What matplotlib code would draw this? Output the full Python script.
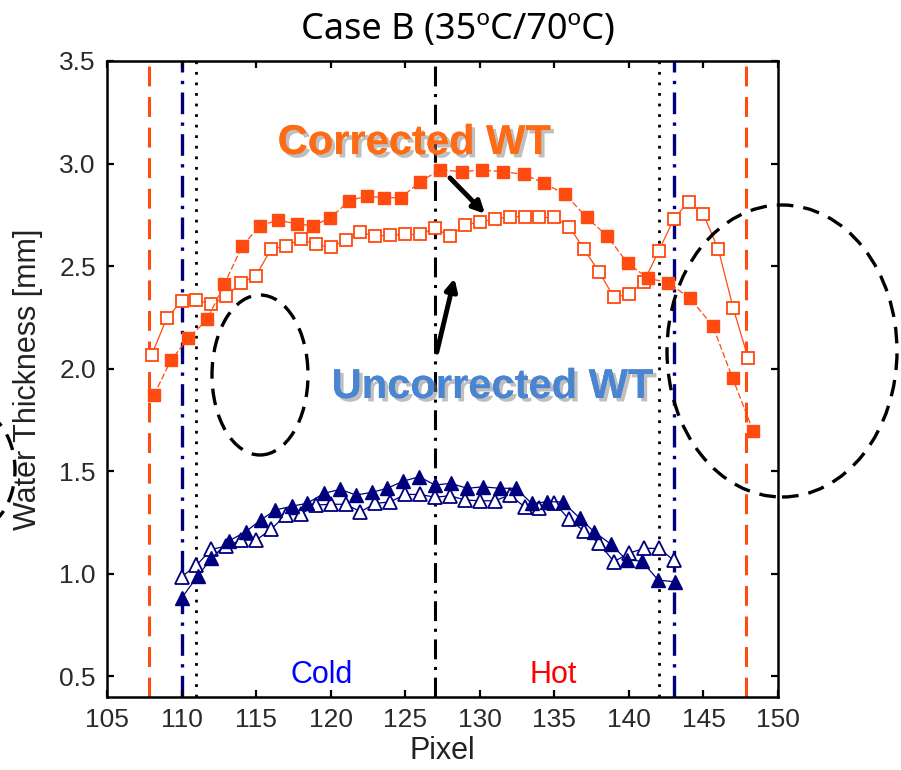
import matplotlib
matplotlib.use("Agg")
import matplotlib.pyplot as plt
import matplotlib.patches as mpatches
import matplotlib.patheffects as pe
import numpy as np

# ---------------- data ----------------
sq_open_x = list(range(108, 149))
sq_open_y = [2.066, 2.245, 2.329, 2.334, 2.313, 2.354, 2.419, 2.453, 2.583, 2.598,
             2.630, 2.606, 2.591, 2.627, 2.664, 2.646, 2.651, 2.654, 2.654, 2.684,
             2.646, 2.700, 2.716, 2.728, 2.741, 2.741, 2.737, 2.737, 2.692, 2.581,
             2.472, 2.347, 2.363, 2.423, 2.573, 2.728, 2.814, 2.752, 2.581, 2.294,
             2.050]

sq_fill_x = [108.15, 109.29, 110.45, 111.73, 112.87, 114.07, 115.26, 116.49, 117.72,
             118.80, 119.96, 121.25, 122.42, 123.58, 124.72, 125.99, 127.35, 128.79,
             130.17, 131.58, 132.99, 134.33, 135.72, 137.17, 138.55, 139.92, 141.30,
             142.64, 144.10, 145.62, 146.96, 148.34]
sq_fill_y = [1.871, 2.041, 2.147, 2.241, 2.412, 2.598, 2.697, 2.724, 2.705, 2.697,
             2.733, 2.819, 2.841, 2.833, 2.833, 2.911, 2.970, 2.960, 2.968, 2.960,
             2.947, 2.903, 2.850, 2.737, 2.646, 2.513, 2.440, 2.419, 2.342, 2.209,
             1.952, 1.695]

tri_open_x = list(range(110, 144))
tri_open_y = [0.984, 1.041, 1.118, 1.134, 1.163, 1.163, 1.216, 1.285, 1.290, 1.334,
              1.338, 1.338, 1.302, 1.342, 1.350, 1.386, 1.386, 1.372, 1.380, 1.359,
              1.355, 1.355, 1.383, 1.326, 1.318, 1.345, 1.264, 1.207, 1.147, 1.058,
              1.099, 1.123, 1.123, 1.066]

tri_fill_x = [110.0, 111.1, 112.0, 113.2, 114.3, 115.3, 116.3, 117.4, 118.4, 119.55,
              120.63, 121.7, 122.75, 123.8, 124.87, 125.94, 127.0, 128.05, 129.16,
              130.2, 131.36, 132.43, 133.48, 134.53, 135.56, 136.72, 137.66, 138.78,
              139.85, 140.86, 141.97, 143.08]
tri_fill_y = [0.880, 0.990, 1.074, 1.160, 1.204, 1.261, 1.310, 1.329, 1.342, 1.391,
              1.411, 1.383, 1.396, 1.416, 1.451, 1.472, 1.432, 1.440, 1.416, 1.423,
              1.416, 1.416, 1.342, 1.350, 1.350, 1.269, 1.204, 1.144, 1.066, 1.061,
              0.968, 0.960]

orange_lines_x = [107.85, 147.85]
blue_lines_x = [110, 143]
dotted_lines_x = [111, 142]
center_line_x = [127]

xticks = [105, 110, 115, 120, 125, 130, 135, 140, 145, 150]
yticks = [0.5, 1.0, 1.5, 2.0, 2.5, 3.0, 3.5]

# ---------------- figure ----------------
ORANGE = "#FF4A10"
NAVY = "#00007F"

fig = plt.figure(figsize=(9.01, 7.70), dpi=100)
ax = fig.add_axes([107/901, 1-697/770, (778-107)/901, (697-61)/770])
ax.set_xlim(105, 150)
ax.set_ylim(0.398, 3.5)

# vertical reference lines
for xv in orange_lines_x:
    ax.axvline(xv, color=ORANGE, lw=2.2, linestyle=(0, (6.5, 3.5)), zorder=1)
for xv in blue_lines_x:
    ax.axvline(xv, color=NAVY, lw=2.4, linestyle=(0, (6.5, 2.5, 1, 2.5)), zorder=1)
for xv in dotted_lines_x:
    ax.axvline(xv, color="black", lw=2.0, linestyle=(0, (1, 2.8)), zorder=1)
for xv in center_line_x:
    ax.axvline(xv, color="black", lw=2.2, linestyle=(0, (6.5, 2.5, 1, 2.5)), zorder=1)

# series
ax.plot(sq_open_x, sq_open_y, color=ORANGE, lw=0.9, marker="s", ms=9,
        mfc="white", mec=ORANGE, mew=1.3, zorder=3)
ax.plot(sq_fill_x, sq_fill_y, color=ORANGE, lw=0.9, linestyle=(0, (5, 2)),
        marker="s", ms=9, mfc=ORANGE, mec=ORANGE, zorder=4)
ax.plot(tri_open_x, tri_open_y, color=NAVY, lw=0.9, marker="^", ms=9.5,
        mfc="white", mec=NAVY, mew=1.3, zorder=3)
ax.plot(tri_fill_x, tri_fill_y, color=NAVY, lw=0.9, marker="^", ms=9.5,
        mfc=NAVY, mec=NAVY, zorder=4)

# axes styling
for s in ax.spines.values():
    s.set_linewidth(1.8)
    s.set_color("black")
ax.set_xticks(xticks)
ax.set_yticks(yticks)
ax.set_xticklabels([str(v) for v in xticks])
ax.set_yticklabels([f"{v:.1f}" for v in yticks])
ax.tick_params(direction="in", length=5, width=1.6, top=True, right=True,
               labelsize=19, labelcolor="#2a2a2a", pad=8)
for lab in ax.get_xticklabels() + ax.get_yticklabels():
    lab.set_family("Liberation Sans")

ax.set_xlabel("Pixel", fontsize=22, family="Liberation Sans", color="#222222",
              labelpad=3)
ax.set_ylabel("Water Thickness [mm]", fontsize=22, family="Liberation Sans",
              color="#222222", labelpad=12)

# region labels
ax.text(119.4, 0.505, "Cold", color="#0000FF", fontsize=22, family="Liberation Sans",
        ha="center", va="center")
ax.text(134.95, 0.505, "Hot", color="#FF0000", fontsize=22, family="Liberation Sans",
        ha="center", va="center")

# annotation texts with shadow
shadow = [pe.withSimplePatchShadow(offset=(2.5, -2.5), shadow_rgbFace="#808080",
                                   alpha=0.5), pe.Normal()]
ax.text(125.6, 3.10, "Corrected WT", color="#FF6A14", fontsize=30,
        fontweight="bold", family="Liberation Sans", ha="center", va="center",
        path_effects=shadow, zorder=6)
ax.text(130.85, 1.91, "Uncorrected WT", color="#4A85D1", fontsize=30,
        fontweight="bold", family="Liberation Sans", ha="center", va="center",
        path_effects=shadow, zorder=6)

# arrows
arrow_kw = dict(arrowstyle="-|>,head_length=0.7,head_width=0.35", color="black",
                lw=3.5, shrinkA=0, shrinkB=0)
ax.annotate("", xy=(130.35, 2.755), xytext=(128.0, 2.93), arrowprops=arrow_kw, zorder=7)
ax.annotate("", xy=(128.3, 2.44), xytext=(127.12, 2.08), arrowprops=arrow_kw, zorder=7)

# dashed ellipses (figure pixel coordinates -> figure fraction)
W, H = 901.0, 770.0
ell_specs = [((260, 375), 96, 160), ((782, 351), 230, 292), ((-32, 470), 94, 125)]
for (cx, cy), w, h in ell_specs:
    e = mpatches.Ellipse((cx / W, 1 - cy / H), w / W, h / H, fill=False,
                         edgecolor="black", lw=2.4, linestyle=(0, (5, 3)),
                         transform=fig.transFigure, clip_on=False, zorder=8)
    fig.patches.append(e)

# title
fig.text(458/901, 1 - 30/770, "Case B (35ºC/70ºC)", fontsize=26,
         family=["Noto Sans", "DejaVu Sans"],
         ha="center", va="center", color="black")

fig.savefig("out.png", dpi=100)
